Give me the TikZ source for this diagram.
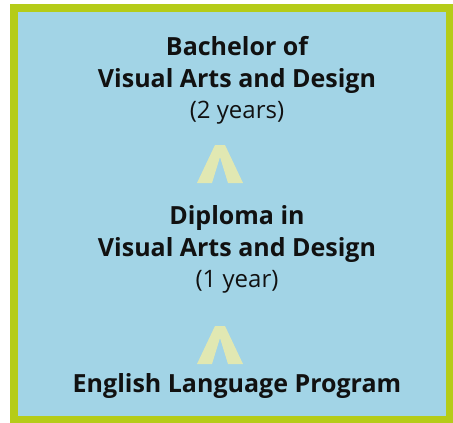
\documentclass[tikz,border=0pt]{standalone}
\usepackage{fontspec}
\setmainfont{Open Sans}
\usetikzlibrary{calc}
\definecolor{frame}{HTML}{B5CC18}
\definecolor{panel}{HTML}{A2D4E6}
\definecolor{caret}{HTML}{E1E8B2}
\definecolor{ink}{HTML}{111111}
\begin{document}
\begin{tikzpicture}[x=1pt,y=-1pt,
  boldline/.style={anchor=base,inner sep=0pt,text=ink,font=\fontsize{25}{30}\selectfont\bfseries},
  plainline/.style={anchor=base,inner sep=0pt,text=ink,font=\fontsize{24}{29}\selectfont},
  caretshape/.style={fill=caret,draw=none}]
\useasboundingbox (0,0) rectangle (453,423);
\fill[frame] (10,4) rectangle (453,423);
\fill[panel] (18,12) rectangle (446,416);
% text lines
\node[boldline] (b1) at (237,55) {Bachelor of};
\node[boldline] (b2) at (237,87) {Visual Arts and Design};
\node[plainline] (b3) at (237,118) {(2 years)};
\node[boldline] (d1) at (237,224) {Diploma in};
\node[boldline] (d2) at (237,256) {Visual Arts and Design};
\node[plainline] (d3) at (237,287) {(1 year)};
\node[boldline] (e) at (237,392) {English Language Program};
% carets
\coordinate (c1) at (220,145);
\coordinate (c2) at (220,326);
\foreach \c in {c1,c2}{
  \fill[caretshape] ($(\c)+(-23,38)$) -- ($(\c)+(-5,0)$) -- ($(\c)+(5,0)$) -- ($(\c)+(23,38)$)
    -- ($(\c)+(8,38)$) -- ($(\c)+(0,12)$) -- ($(\c)+(-8,38)$) -- cycle;
}
\end{tikzpicture}
\end{document}
